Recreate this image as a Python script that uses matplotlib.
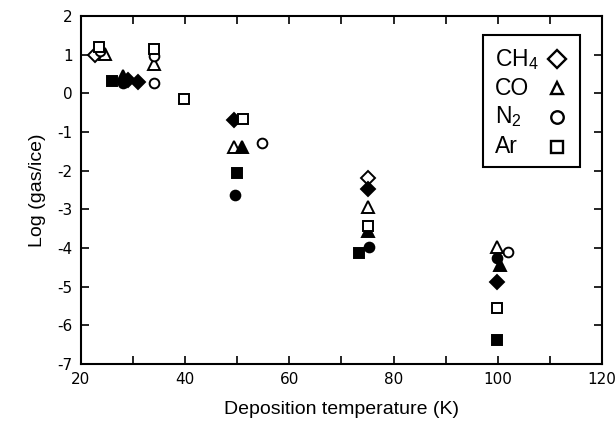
import matplotlib
matplotlib.use("Agg")
import matplotlib.pyplot as plt
from matplotlib.patches import Rectangle

# Datos: temperatura de depósito (K) vs log(gas/hielo)
ch4_open_T = [22.7, 75.1]
ch4_open_v = [1.0, -2.2]
ch4_fill_T = [29.0, 31.0, 49.4, 75.1, 99.9]
ch4_fill_v = [0.35, 0.30, -0.68, -2.48, -4.88]

co_open_T = [24.6, 34.0, 49.4, 75.1, 99.8]
co_open_v = [1.02, 0.75, -1.38, -2.93, -3.97]
co_fill_T = [28.0, 51.0, 75.1, 100.4]
co_fill_v = [0.45, -1.38, -3.57, -4.43]

n2_open_T = [23.6, 34.0, 34.0, 54.7, 102.0]
n2_open_v = [1.1, 0.97, 0.27, -1.28, -4.1]
n2_fill_T = [28.0, 49.6, 75.3, 99.8]
n2_fill_v = [0.27, -2.63, -3.98, -4.25]

ar_open_T = [23.5, 34.0, 39.8, 51.1, 75.0, 99.9]
ar_open_v = [1.2, 1.15, -0.14, -0.67, -3.43, -5.55]
ar_fill_T = [26.0, 49.9, 73.4, 99.9]
ar_fill_v = [0.33, -2.06, -4.12, -6.37]

gases = ["CH$_4$", "CO", "N$_2$", "Ar"]
x_ticks = [20, 40, 60, 80, 100, 120]
y_ticks = list(range(-7, 3))

plt.rcParams["font.family"] = ["Liberation Sans", "DejaVu Sans"]
plt.rcParams["mathtext.fontset"] = "custom"
plt.rcParams["mathtext.rm"] = "Liberation Sans"

fig = plt.figure(figsize=(6.15, 4.29), dpi=100)
ax = fig.add_axes([0.1317, 0.1515, 0.8471, 0.8112])

series = [
    (ch4_open_T, ch4_open_v, "D", "white", 7.5),
    (ch4_fill_T, ch4_fill_v, "D", "black", 7.5),
    (co_open_T, co_open_v, "^", "white", 8.5),
    (co_fill_T, co_fill_v, "^", "black", 8.5),
    (n2_open_T, n2_open_v, "o", "white", 7),
    (n2_fill_T, n2_fill_v, "o", "black", 7),
    (ar_open_T, ar_open_v, "s", "white", 7),
    (ar_fill_T, ar_fill_v, "s", "black", 7),
]
for T, v, mk, fc, ms in series:
    ax.plot(T, v, linestyle="none", marker=mk, markersize=ms,
            markerfacecolor=fc, markeredgecolor="black", markeredgewidth=1.4)

ax.set_xlim(20, 120)
ax.set_ylim(-7, 2)
ax.set_xticks(x_ticks)
ax.set_xticks(range(20, 121, 10), minor=True)
ax.set_yticks(y_ticks)
ax.set_xticklabels([str(t) for t in x_ticks], family="DejaVu Sans")
ax.set_yticklabels([str(t) for t in y_ticks], family="DejaVu Sans")
ax.tick_params(which="both", direction="in", top=True, right=True,
               length=6, width=1.2, labelsize=11, pad=6)
for s in ax.spines.values():
    s.set_linewidth(1.5)

ax.set_xlabel("Deposition temperature (K)", fontsize=14, labelpad=10)
ax.set_ylabel("Log (gas/ice)", fontsize=14, labelpad=8)

# leyenda a mano: texto alineado a la izquierda, marcador a la derecha
ax.add_patch(Rectangle((0.772, 0.566), 0.186, 0.379, transform=ax.transAxes,
                       facecolor="white", edgecolor="black", linewidth=1.5,
                       zorder=5))
marcas = ["D", "^", "o", "s"]
filas_y = [0.876, 0.792, 0.710, 0.624]
for nombre, m, yy in zip(gases, marcas, filas_y):
    ax.text(0.795, yy, nombre, transform=ax.transAxes, fontsize=16.5,
            va="center", ha="left", zorder=6)
    ax.plot([0.914], [yy], transform=ax.transAxes, linestyle="none",
            marker=m, markersize=9, markerfacecolor="white",
            markeredgecolor="black", markeredgewidth=1.7, zorder=6,
            clip_on=False)

fig.savefig("out.png", dpi=100)
